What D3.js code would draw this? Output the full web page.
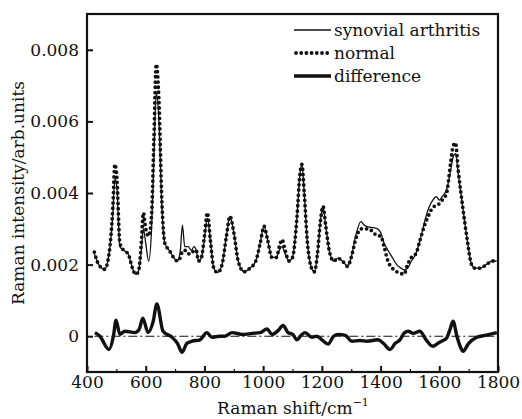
<!DOCTYPE html>
<html><head><meta charset="utf-8">
<script src="https://cdn.jsdelivr.net/npm/d3@7"></script>
<style>body{margin:0;background:#fff}svg{display:block}text{font-family:"DejaVu Serif",serif;fill:#111}</style>
</head><body><svg id="c" width="522" height="419"></svg>
<script>
const shifts = [425,440,460,475,488,495,502,512,525,540,555,565,575,585,592,600,610,620,628,636,645,655,665,680,695,708,718,725,733,745,755,765,772,780,790,800,810,820,832,845,860,875,887,900,915,935,955,975,990,1003,1015,1030,1045,1055,1064,1075,1088,1100,1115,1125,1132,1140,1150,1165,1175,1185,1195,1204,1213,1225,1240,1255,1270,1288,1300,1315,1333,1345,1360,1375,1390,1400,1412,1425,1440,1455,1470,1480,1492,1505,1520,1535,1550,1565,1578,1590,1600,1610,1625,1638,1647,1655,1665,1680,1695,1710,1722,1740,1760,1780,1795];
const normal = [0.00235,0.0020,0.00187,0.0023,0.0036,0.0048,0.0044,0.0026,0.0024,0.0023,0.0019,0.00173,0.0018,0.0026,0.00345,0.0030,0.0028,0.0034,0.0055,0.0076,0.0066,0.0038,0.0026,0.0024,0.0022,0.0021,0.0022,0.00237,0.0024,0.0023,0.0023,0.0024,0.0024,0.0021,0.0022,0.0028,0.00345,0.0027,0.0019,0.00178,0.0020,0.0028,0.00335,0.0029,0.0021,0.0018,0.0019,0.0021,0.0026,0.00307,0.0027,0.0022,0.0022,0.0025,0.0027,0.0024,0.0021,0.0022,0.0033,0.0045,0.0048,0.0040,0.0027,0.0019,0.0018,0.0023,0.0032,0.00363,0.0031,0.0024,0.0021,0.00218,0.0021,0.00195,0.0022,0.0027,0.0030,0.0030,0.0030,0.0029,0.0028,0.0028,0.0025,0.0021,0.0019,0.0018,0.00175,0.00173,0.0020,0.0022,0.0023,0.0027,0.0031,0.0034,0.0036,0.00365,0.0037,0.0038,0.0040,0.0048,0.0053,0.0054,0.0046,0.0036,0.0027,0.0020,0.0019,0.0019,0.0020,0.0021,0.0021];
const synovial = [0.0023,0.0020,0.00187,0.0023,0.0034,0.0044,0.0041,0.0025,0.0024,0.0023,0.0019,0.00173,0.0018,0.0024,0.0030,0.0026,0.0021,0.0030,0.0050,0.0068,0.0060,0.0036,0.0026,0.0024,0.0022,0.0021,0.0024,0.0031,0.0025,0.0025,0.0024,0.0025,0.0024,0.0021,0.0022,0.0027,0.0033,0.0027,0.0019,0.00178,0.0020,0.0028,0.00335,0.0029,0.0021,0.0018,0.0019,0.0021,0.0026,0.00307,0.0027,0.0022,0.0022,0.0024,0.0025,0.0023,0.0021,0.0022,0.0033,0.0045,0.0048,0.0040,0.0027,0.0019,0.0018,0.0023,0.0032,0.00363,0.0031,0.0024,0.0021,0.00218,0.0021,0.00195,0.0022,0.0028,0.0032,0.0031,0.00305,0.00303,0.0030,0.0029,0.0026,0.0024,0.0022,0.0020,0.0019,0.00185,0.0019,0.0021,0.0023,0.0027,0.0032,0.0036,0.0038,0.0039,0.0038,0.0039,0.0041,0.0046,0.0050,0.0051,0.0045,0.0036,0.0027,0.0020,0.0019,0.0019,0.0020,0.0021,0.0021];
const diffShifts = [427,444,475,490,499,512,529,563,578,590,608,625,638,659,690,708,724,740,758,785,808,826,850,870,894,930,962,990,1013,1030,1050,1068,1085,1101,1115,1130,1143,1166,1183,1200,1221,1240,1255,1280,1302,1330,1354,1391,1410,1432,1450,1466,1482,1494,1511,1534,1555,1578,1595,1608,1625,1637,1647,1660,1672,1681,1700,1728,1760,1796];
const difference = [0.0001,0,-0.00037,0,0.00045,0.00005,0.00014,0.0001,0.0002,0.0005,0.0001,0.0004,0.0009,0.00014,-0.00003,-0.0002,-0.00045,-0.0002,-0.00014,-0.0001,0.0001,-0.00003,0,0,0.0001,0.00005,0.00008,0.0001,0.0002,0.00005,0.00015,0.0003,0.0001,0.00005,-0.0001,0.00003,0.0001,-0.00003,0,-0.0001,-0.00022,0,0.00005,0.00002,-0.00014,-0.00012,-0.00014,-0.0001,-0.0002,-0.00037,-0.0002,-0.0001,0.0001,0.00014,0.00008,0.00014,-0.0001,-0.00028,-0.0002,-0.00014,-0.00005,0.0002,0.00042,0,-0.0003,-0.00042,-0.0002,-0.00003,0.00003,0.0001];
const xTicks = [400,600,800,1000,1200,1400,1600,1800];
const xMinor = [500,700,900,1100,1300,1500,1700];
const yTicks = [0,0.002,0.004,0.006,0.008];
const yTickLabels = ["0","0.002","0.004","0.006","0.008"];
const legendLabels = ["synovial arthritis","normal","difference"];

const svg = d3.select("#c");
const L=87,R=498,T=14,B=372;
const x = d3.scaleLinear().domain([400,1800]).range([L,R]);
const y = d3.scaleLinear().domain([-0.001,0.009]).range([B,T]);

const line = (xs, ys) => d3.line().x((d,i)=>x(xs[i])).y(d=>y(d)).curve(d3.curveMonotoneX)(ys);

// zero dash-dot line
svg.append("line").attr("x1",x(425)).attr("x2",x(1795)).attr("y1",y(0)).attr("y2",y(0))
  .attr("stroke","#111").attr("stroke-width",1.1).attr("stroke-dasharray","9,3,2,3");

svg.append("path").attr("d",line(shifts,synovial)).attr("fill","none").attr("stroke","#111").attr("stroke-width",1.3);
svg.append("path").attr("d",line(shifts,normal)).attr("fill","none").attr("stroke","#111").attr("stroke-width",3.8)
  .attr("stroke-linecap","round").attr("stroke-dasharray","0,5.2");
svg.append("path").attr("d",line(diffShifts,difference)).attr("fill","none").attr("stroke","#111").attr("stroke-width",3.4)
  .attr("stroke-linejoin","round");

// frame
svg.append("rect").attr("x",L).attr("y",T).attr("width",R-L).attr("height",B-T).attr("fill","none").attr("stroke","#111").attr("stroke-width",2.2);

// x axis
const xa = svg.append("g").attr("transform",`translate(0,${B})`)
  .call(d3.axisBottom(x).tickValues(xTicks).tickSize(-6).tickPadding(4).tickFormat(d3.format("d")));
xa.select(".domain").remove();
xa.selectAll("line").attr("stroke","#111").attr("stroke-width",2);
xa.selectAll("text").attr("font-size",17).attr("font-family","DejaVu Serif");
const xm = svg.append("g").attr("transform",`translate(0,${B})`)
  .call(d3.axisBottom(x).tickValues(xMinor).tickSize(-3).tickFormat(""));
xm.select(".domain").remove();
xm.selectAll("line").attr("stroke","#111").attr("stroke-width",1.2);

// y axis
const ya = svg.append("g").attr("transform",`translate(${L},0)`)
  .call(d3.axisLeft(y).tickValues(yTicks).tickSize(-6).tickPadding(8).tickFormat((d,i)=>yTickLabels[i]));
ya.select(".domain").remove();
ya.selectAll("line").attr("stroke","#111").attr("stroke-width",2);
ya.selectAll("text").attr("font-size",17).attr("font-family","DejaVu Serif");

// axis titles
svg.append("text").attr("transform","translate(24,193) rotate(-90)").attr("text-anchor","middle")
  .attr("font-size",17).text("Raman intensity/arb.units");
const xt = svg.append("text").attr("x",293).attr("y",414).attr("text-anchor","middle").attr("font-size",17);
xt.append("tspan").text("Raman shift/cm");
xt.append("tspan").attr("font-size",11).attr("dy",-8).text("−1");

// legend
const lg = svg.append("g");
const rows=[30,53,76];
legendLabels.forEach((t,i)=>{
  const ln = lg.append("line").attr("x1",294).attr("x2",331).attr("y1",rows[i]).attr("y2",rows[i]).attr("stroke","#111");
  if(i===0) ln.attr("stroke-width",1.3);
  if(i===1) ln.attr("stroke-width",3.8).attr("stroke-linecap","round").attr("stroke-dasharray","0,5.2").attr("x1",296);
  if(i===2) ln.attr("stroke-width",3.4);
  lg.append("text").attr("x",334).attr("y",rows[i]+6).attr("font-size",17).text(t);
});
</script></body></html>
